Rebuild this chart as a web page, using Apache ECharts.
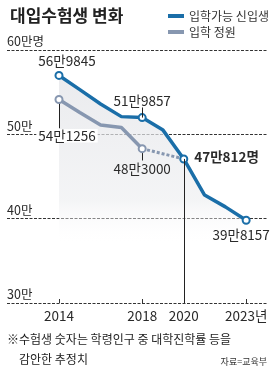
<!DOCTYPE html>
<html><head><meta charset="utf-8">
<script src="https://cdn.jsdelivr.net/npm/echarts/dist/echarts.min.js"></script>
<style>html,body{margin:0;padding:0;background:#fff}#c{width:280px;height:379px}</style>
</head><body><div id="c"></div>
<script>
// ---- data (unit: 만명) ----
const years = [2014, 2015, 2016, 2017, 2018, 2019, 2020, 2021, 2022, 2023];
const applicants = [56.9845, 55.3, 53.6, 52.1, 51.9857, 50.5, 47.0812, 42.8, 41.4, 39.8157];
const quotaYears = [2014, 2015, 2016, 2017, 2018];
const quota = [54.1256, 52.6, 51.1, 50.8, 48.3];
const projYears = [2018, 2020];
const projQuota = [48.3, 47.0812];
const xTickValues = [2014, 2018, 2020, 2023];
const yTickLabels = {30: '30만', 40: '40만', 50: '50만', 60: '60만명'};
const seriesNames = ['입학가능 신입생', '입학 정원'];
const titleText = '대입수험생 변화';
const noteLines = ['※수험생 숫자는 학령인구 중 대학진학률 등을', '감안한 추정치'];
const sourceText = '자료=교육부';

// ---- styles ----
const BLUE = '#1a6ea8', GRAY = '#8797b0', INK = '#2a2a2a';
const NUM = "'Liberation Sans Narrow','Arial Narrow','Noto Sans CJK KR',sans-serif";
const KR = "'Noto Sans CJK KR','Noto Sans',sans-serif";

function fmt(v) {
  const man = Math.floor(v + 1e-9);
  return man + '만' + Math.round((v - man) * 10000);
}
const blueLabels = {
  2014: {position: 'top', distance: 3, offset: [8, 0]},
  2018: {position: 'top', distance: 5, offset: [0, 0]},
  2020: {position: 'right', distance: 6, offset: [0, -2], bold: true, suffix: '명'},
  2023: {position: 'bottom', distance: 3, offset: [-5, 0]}
};
const grayLabels = {
  2014: {position: 'bottom', distance: 25, offset: [8, 0], bg: true},
  2018: {position: 'bottom', distance: 9, offset: [0, 0]}
};
function buildItems(xs, ys, labels, color) {
  return xs.map((x, i) => {
    const l = labels[x];
    if (!l) return {value: [x, ys[i]], symbol: 'none'};
    return {
      value: [x, ys[i]], symbol: 'circle', symbolSize: 7,
      itemStyle: {color: '#fff', borderColor: color, borderWidth: 2},
      label: {
        show: true, position: l.position, distance: l.distance, offset: l.offset,
        formatter: fmt(ys[i]) + (l.suffix || ''),
        fontFamily: NUM, fontSize: 13.5, color: INK,
        fontWeight: l.bold ? 'bold' : 'normal',
        backgroundColor: l.bg ? '#fff' : 'transparent', padding: l.bg ? [0, 2] : 0
      }
    };
  });
}
const iApp = (y) => applicants[years.indexOf(y)];
const iQ = (y) => quota[quotaYears.indexOf(y)];

const chart = echarts.init(document.getElementById('c'), null, {renderer: 'canvas'});
chart.setOption({
  animation: false,
  backgroundColor: '#fff',
  title: {text: titleText, left: 5, top: 2,
    textStyle: {fontFamily: KR, fontSize: 17, fontWeight: 'bold', color: '#222'}},
  legend: {
    data: seriesNames, orient: 'vertical', left: 163, top: 5, icon: 'rect',
    itemWidth: 16, itemHeight: 4, itemGap: 4,
    textStyle: {fontFamily: KR, fontSize: 12, color: '#333'}
  },
  grid: {left: 7, right: 12, top: 50, bottom: 76},
  xAxis: {
    type: 'value', min: 2011.5, max: 2024.05,
    splitLine: {show: false}, axisLine: {show: false},
    axisTick: {show: true, inside: true, length: 4, customValues: [2014, 2018, 2023],
      lineStyle: {color: '#333'}},
    axisLabel: {customValues: xTickValues, margin: 6, fontFamily: NUM, fontSize: 13.5, color: INK,
      formatter: (v) => v === 2023 ? v + '년' : '' + v}
  },
  yAxis: {
    type: 'value', min: 30, max: 60, interval: 10,
    axisLine: {show: false}, axisTick: {show: false},
    splitLine: {lineStyle: {type: [3, 1.5], color: '#333', width: 1}},
    axisLabel: {inside: true, margin: 0, verticalAlign: 'bottom', align: 'left',
      padding: [0, 0, 2, 0], fontFamily: NUM, fontSize: 12.5, color: INK,
      formatter: (v) => yTickLabels[v] || ''}
  },
  graphic: [
    {type: 'text', left: 7, top: 333, style: {text: noteLines[0], font: '12px ' + KR, fill: '#222'}},
    {type: 'text', left: 19, top: 353, style: {text: noteLines[1], font: '12px ' + KR, fill: '#222'}},
    {type: 'text', right: 13, top: 357, style: {text: sourceText, font: '9px ' + KR, fill: '#333'}}
  ],
  series: [
    {
      type: 'line', z: 1, symbol: 'none', silent: true,
      data: years.map((x, i) => [x, applicants[i]]),
      lineStyle: {width: 0, opacity: 0},
      areaStyle: {origin: 'start', color: new echarts.graphic.LinearGradient(0, 0, 0, 1, [
        {offset: 0, color: '#e2e3e7'}, {offset: 0.55, color: '#eff0f2'}, {offset: 0.75, color: 'rgba(255,255,255,0)'}])}
    },
    {
      name: seriesNames[0], type: 'line', z: 4,
      data: buildItems(years, applicants, blueLabels, BLUE),
      lineStyle: {color: BLUE, width: 3.5}, itemStyle: {color: BLUE},
      markLine: {silent: true, symbol: 'none', label: {show: false},
        lineStyle: {type: 'solid', color: '#222', width: 1},
        data: [
          [{coord: [2020, iApp(2020)]}, {coord: [2020, 30]}],
          [{coord: [2018, iApp(2018)]}, {coord: [2018, iApp(2018) + 1.2]}]
        ]}
    },
    {
      name: seriesNames[1], type: 'line', z: 5,
      data: buildItems(quotaYears, quota, grayLabels, GRAY),
      lineStyle: {color: GRAY, width: 3.5}, itemStyle: {color: GRAY},
      markLine: {silent: true, symbol: 'none', label: {show: false},
        lineStyle: {type: 'solid', color: '#222', width: 1},
        data: [
          [{coord: [2014, iQ(2014)]}, {coord: [2014, iQ(2014) - 3.4]}],
          [{coord: [2018, iQ(2018)]}, {coord: [2018, iQ(2018) - 1.4]}]
        ]}
    },
    {
      type: 'line', z: 3, symbol: 'none',
      data: projYears.map((x, i) => [x, projQuota[i]]),
      lineStyle: {color: GRAY, width: 3, type: [3, 2]}
    }
  ]
});
</script></body></html>
